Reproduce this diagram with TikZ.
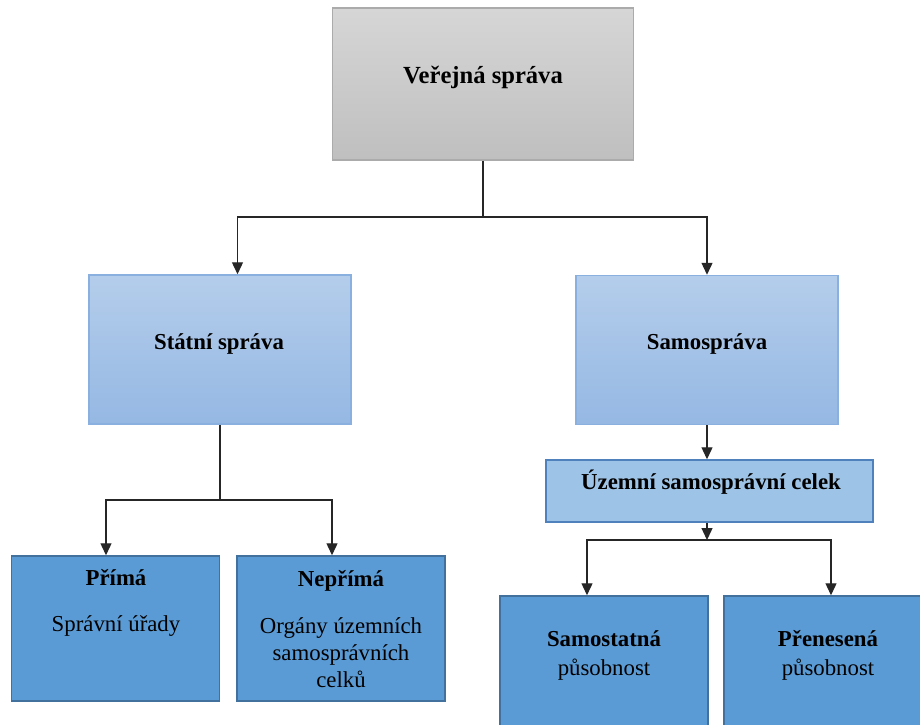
\documentclass[tikz,border=0pt]{standalone}
\usepackage{fontspec}
\setmainfont{Liberation Serif}
\usetikzlibrary{arrows.meta, positioning, calc}

\definecolor{sedaNahore}{HTML}{D6D6D6}
\definecolor{sedaDole}{HTML}{BFBFBF}
\definecolor{sedaOkraj}{HTML}{ABABAB}
\definecolor{modraNahore}{HTML}{B4CDEB}
\definecolor{modraDole}{HTML}{95B8E3}
\definecolor{modraOkraj}{HTML}{8AB0E0}
\definecolor{uscVypln}{HTML}{9DC3E6}
\definecolor{uscOkraj}{HTML}{4F81BD}
\definecolor{tmavaVypln}{HTML}{5B9BD5}
\definecolor{tmavaOkraj}{HTML}{41719C}

\begin{document}
\begin{tikzpicture}[
  x=0.5pt, y=-0.5pt,
  blok/.style={
    rectangle, inner sep=0pt, line width=0.75pt
  },
  hlavni/.style={
    blok, draw=sedaOkraj, top color=sedaNahore, bottom color=sedaDole,
    minimum width=150.5pt, minimum height=76pt
  },
  svetly/.style={
    blok, draw=modraOkraj, top color=modraNahore, bottom color=modraDole,
    minimum width=131pt, minimum height=74.5pt
  },
  uscblok/.style={
    blok, draw=uscOkraj, fill=uscVypln,
    minimum width=163.5pt, minimum height=31pt
  },
  tmavy/.style={
    blok, draw=tmavaOkraj, fill=tmavaVypln,
    minimum width=104pt, minimum height=72.5pt
  },
  popis/.style={
    anchor=base, inner sep=0pt, align=center,
    font=\fontsize{11.4}{13.5}\selectfont
  },
  nadpis/.style={
    popis, font=\fontsize{11.4}{13.5}\selectfont\bfseries
  },
  fleche/.style={
    arrows={-Triangle[length=6pt, width=5.5pt]},
    draw=black!85, line width=0.65pt
  },
  spoj/.style={draw=black!85, line width=0.65pt}
]

\clip (0,0) rectangle (920,724);
\fill[white] (0,0) rectangle (920,724);

% ----- Veřejná správa -----
\node[hlavni] (verejna) at (483, 84) {};
\node[nadpis, font=\fontsize{12.3}{14}\selectfont\bfseries] (verejnaText) at (483, 83) {Veřejná správa};

% ----- Druhá úroveň -----
\node[svetly] (statni) at (220, 349.5) {};
\node[nadpis] (statniText) at (219, 349) {Státní správa};

\node[svetly] (samosprava) at (707, 350) {};
\node[nadpis] (samospravaText) at (707, 349) {Samospráva};

\node[uscblok] (uzemni) at (709.5, 491) {};
\node[nadpis] (uzemniText) at (711, 489) {Územní samosprávní celek};

% ----- Třetí úroveň (kotva = poslední řádek) -----
\node[tmavy] (prima) at (115.5, 628.5) {};
\node[popis] (primaText) at (116, 631)
  {\textbf{Přímá}\\[9.5pt]Správní úřady};

\node[tmavy] (neprima) at (341, 628.5) {};
\node[popis] (neprimaText) at (341, 687)
  {\textbf{Nepřímá}\\[10pt]Orgány územních\\samosprávních\\celků};

\node[tmavy] (samostatna) at (604, 668.5) {};
\node[popis] (samostatnaText) at (604, 675)
  {\textbf{Samostatná}\\[1pt]působnost};

\node[tmavy] (prenesena) at (828, 668.5) {};
\node[popis] (preneseneText) at (828, 675)
  {\textbf{Přenesená}\\[1pt]působnost};

% ----- Spojnice -----
\coordinate (rozcesti) at (483, 217);
\draw[spoj] (verejna.south) -- (rozcesti);
\draw[fleche] (rozcesti) -| ([xshift=8.75pt]statni.north);
\draw[fleche] (rozcesti) -| (samosprava.north);

\coordinate (rozcestiStat) at (220, 500);
\draw[spoj] (statni.south) -- (rozcestiStat);
\draw[fleche] (rozcestiStat) -| ([xshift=-4.75pt]prima.north);
\draw[fleche] (rozcestiStat) -| ([xshift=-4.5pt]neprima.north);

\draw[fleche] (samosprava.south) -- (samosprava.south |- uzemni.north);

\coordinate (rozcestiUsc) at (707, 540);
\draw[fleche] (uzemni.south -| rozcestiUsc) -- (rozcestiUsc);
\draw[fleche] (rozcestiUsc) -| ([xshift=-8.5pt]samostatna.north);
\draw[fleche] (rozcestiUsc) -| ([xshift=1.5pt]prenesena.north);

\end{tikzpicture}
\end{document}
